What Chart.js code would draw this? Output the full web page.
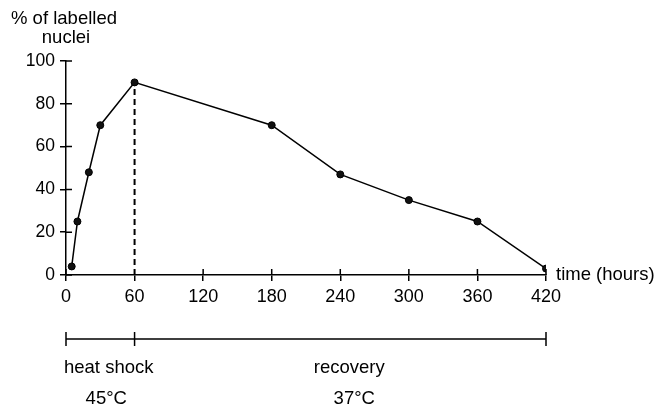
<!DOCTYPE html>
<html>
<head>
<meta charset="utf-8">
<script src="https://cdn.jsdelivr.net/npm/chart.js@4.4.1/dist/chart.umd.min.js"></script>
<style>
  html, body { margin: 0; padding: 0; background: #fff; }
  #wrap { width: 659px; height: 408px; position: relative; }
</style>
</head>
<body>
<div id="wrap"><canvas id="chart"></canvas></div>
<script>
// data
const hours = [5, 10, 20, 30, 60, 180, 240, 300, 360, 420];
const labelled = [4, 25, 48, 70, 90, 70, 47, 35, 25, 3];
const xTicks = [0, 60, 120, 180, 240, 300, 360, 420];
const yTicks = [0, 20, 40, 60, 80, 100];
const dropHour = 60;
const phaseBounds = [0, 60, 420];
const phaseNames = ['heat shock', 'recovery'];
const phaseTemps = ['45°C', '37°C'];

const FONT = '"Liberation Sans", Arial, sans-serif';

const extras = {
  id: 'extras',
  afterDraw(chart) {
    const c = chart.ctx, xs = chart.scales.x, ys = chart.scales.y;
    const x0 = xs.getPixelForValue(0), y0 = ys.getPixelForValue(0);
    c.save();
    c.strokeStyle = '#000';
    c.fillStyle = '#000';
    c.lineWidth = 1.5;
    // inner half of the crossing ticks
    c.beginPath();
    xTicks.forEach(v => {
      if (v === dropHour) return;
      const px = xs.getPixelForValue(v);
      c.moveTo(px, y0); c.lineTo(px, y0 - 6);
    });
    yTicks.forEach(v => {
      const py = ys.getPixelForValue(v);
      c.moveTo(x0, py); c.lineTo(x0 + 6, py);
    });
    c.stroke();

    // axis titles
    c.font = '18.5px ' + FONT;
    c.textAlign = 'center';
    c.textBaseline = 'middle';
    c.fillText('% of labelled', 64, 19);
    c.fillText('nuclei', 66, 38);
    c.textAlign = 'left';
    c.fillText('time (hours)', 556, y0);

    // phase bar below the axis
    const by = 339;
    const pts = phaseBounds.map(v => xs.getPixelForValue(v));
    c.beginPath();
    c.moveTo(pts[0], by); c.lineTo(pts[pts.length - 1], by);
    pts.forEach(p => { c.moveTo(p, by - 7); c.lineTo(p, by + 7); });
    c.stroke();
    c.textAlign = 'left';
    c.fillText(phaseNames[0], pts[0] - 2, 368);
    c.textAlign = 'center';
    c.fillText(phaseTemps[0], (pts[0] + pts[1]) / 2 + 6, 399);
    c.fillText(phaseNames[1], (pts[1] + pts[2]) / 2 + 9, 368);
    c.fillText(phaseTemps[1], (pts[1] + pts[2]) / 2 + 14, 399);
    c.restore();
  }
};

new Chart(document.getElementById('chart'), {
  type: 'scatter',
  data: {
    datasets: [{
      data: hours.map((h, i) => ({ x: h, y: labelled[i] })),
      showLine: true,
      borderColor: '#000',
      borderWidth: 1.5,
      pointBackgroundColor: '#111',
      pointBorderColor: '#000',
      pointBorderWidth: 1,
      pointRadius: 3.5,
      tension: 0
    }, {
      data: [{ x: dropHour, y: 0 }, { x: dropHour, y: labelled[hours.indexOf(dropHour)] }],
      showLine: true,
      borderColor: '#000',
      borderWidth: 2,
      borderDash: [6, 4],
      pointRadius: 0
    }]
  },
  plugins: [extras],
  options: {
    responsive: true,
    maintainAspectRatio: false,
    animation: false,
    layout: { padding: { left: 0, right: 113, top: 61, bottom: 103 } },
    plugins: { legend: { display: false }, tooltip: { enabled: false } },
    scales: {
      x: {
        type: 'linear',
        min: 0, max: 420,
        afterBuildTicks: s => { s.ticks = xTicks.map(v => ({ value: v })); },
        afterFit: s => { s.height = 30; },
        grid: { display: true, drawOnChartArea: false, drawTicks: true, tickLength: 6, color: '#000', lineWidth: 1.5 },
        border: { display: true, color: '#000', width: 1.5 },
        ticks: { color: '#000', padding: 5, maxRotation: 0, font: { family: FONT, size: 18 } }
      },
      y: {
        min: 0, max: 100,
        afterBuildTicks: s => { s.ticks = yTicks.map(v => ({ value: v })); },
        afterFit: s => { s.width = 66; },
        grid: { display: true, drawOnChartArea: false, drawTicks: true, tickLength: 6, color: '#000', lineWidth: 1.5 },
        border: { display: true, color: '#000', width: 1.5 },
        ticks: { color: '#000', padding: 5, font: { family: FONT, size: 17.5 } }
      }
    }
  }
});
</script>
</body>
</html>
